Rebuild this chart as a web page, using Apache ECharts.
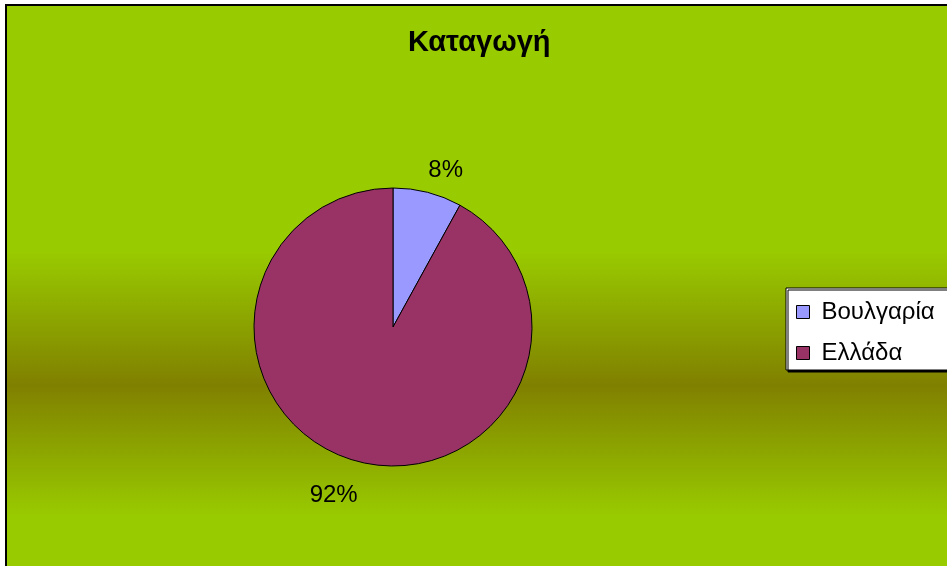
<!DOCTYPE html>
<html lang="el">
<head>
	<meta charset="UTF-8">
	<title>Καταγωγή</title>
	<style type="text/css">
		html, body { margin: 0; padding: 0; background: #fff; }
		#main { width: 947px; height: 566px; }
	</style>
</head>
<body>
	<div id="main"></div>
	<script type="text/javascript" src="https://cdn.jsdelivr.net/npm/echarts@6/dist/echarts.min.js"></script>
	<script type="text/javascript">
		var TITLE = 'Καταγωγή';
		var categories = ['Βουλγαρία', 'Ελλάδα'];
		var shares = [8, 92];
		var colors = ['#9999FF', '#993366'];

		var FONT = '"Liberation Sans", Arial, sans-serif';

		var pieData = [];
		for (var i = 0; i < categories.length; i++) {
			pieData.push({
				name: categories[i],
				value: shares[i],
				itemStyle: { color: colors[i] }
			});
		}

		// small nudges so the % labels sit where Excel put them
		var labelShift = [[-10, 0], [10, 11]];

		var chart = echarts.init(document.getElementById('main'));

		var option = {
			backgroundColor: '#fff',
			animation: false,
			graphic: [{
				type: 'rect',
				z: -10,
				silent: true,
				shape: { x: 6, y: 5, width: 1000, height: 563 },
				style: {
					fill: new echarts.graphic.LinearGradient(0, 0, 0, 1, [
						{ offset: 0, color: '#99CC00' },
						{ offset: 0.435, color: '#99CC00' },
						{ offset: 0.675, color: '#808000' },
						{ offset: 0.91, color: '#99CC00' },
						{ offset: 1, color: '#99CC00' }
					]),
					stroke: '#000',
					lineWidth: 2
				}
			}],
			title: {
				text: TITLE,
				left: 403,
				top: 23,
				textStyle: {
					fontFamily: FONT,
					fontSize: 29,
					fontWeight: 'bold',
					color: '#000'
				}
			},
			legend: {
				orient: 'vertical',
				left: 786,
				top: 288,
				data: categories,
				icon: 'rect',
				itemWidth: 13,
				itemHeight: 13,
				itemGap: 17,
				padding: [12, 40, 5, 10],
				backgroundColor: '#fff',
				borderColor: '#000',
				borderWidth: 1,
				borderRadius: 0,
				shadowColor: '#000',
				shadowBlur: 0,
				shadowOffsetX: 2,
				shadowOffsetY: 2,
				itemStyle: { borderColor: '#000', borderWidth: 1 },
				textStyle: {
					fontFamily: FONT,
					fontSize: 24,
					color: '#000',
					padding: [0, 0, 0, 7]
				}
			},
			series: [{
				type: 'pie',
				center: [393, 327],
				radius: 139,
				startAngle: 90,
				clockwise: true,
				data: pieData,
				itemStyle: { borderColor: '#000', borderWidth: 1 },
				emphasis: { disabled: true },
				label: {
					show: true,
					position: 'outside',
					formatter: '{d}%',
					fontFamily: FONT,
					fontSize: 24,
					color: '#000'
				},
				labelLine: { show: false, length: 23, length2: 0 },
				labelLayout: function (params) {
					var s = labelShift[params.dataIndex] || [0, 0];
					return { dx: s[0], dy: s[1] };
				}
			}]
		};

		chart.setOption(option);
	</script>
</body>
</html>
